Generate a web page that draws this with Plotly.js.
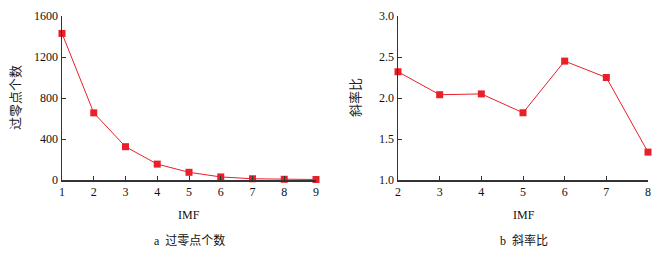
<!DOCTYPE html>
<html>
<head>
<meta charset="utf-8">
<script src="https://cdn.plot.ly/plotly-3.0.1.min.js"></script>
<style>html,body{margin:0;padding:0;background:#fff;}#chart{width:662px;height:256px;}</style>
</head>
<body>
<div id="chart"></div>
<script>
const imfA = [1, 2, 3, 4, 5, 6, 7, 8, 9];
const zeroCrossings = [1430, 655, 325, 155, 75, 30, 12, 7, 5];
const imfB = [2, 3, 4, 5, 6, 7, 8];
const slopeRatio = [2.32, 2.04, 2.05, 1.82, 2.45, 2.25, 1.34];
const yTicksA = [0, 400, 800, 1200, 1600];
const yTicksB = [1.0, 1.5, 2.0, 2.5, 3.0];

const red = '#e8202a';
const serif = 'Liberation Serif, Times New Roman, serif';
const cjk = 'Liberation Serif, Noto Sans CJK SC, serif';
const axisCol = '#333333';

const traces = [
  {x: imfA, y: zeroCrossings, xaxis: 'x', yaxis: 'y', type: 'scatter', mode: 'lines+markers',
   line: {color: red, width: 1}, marker: {symbol: 'square', size: 7, color: red}, cliponaxis: false},
  {x: imfB, y: slopeRatio, xaxis: 'x2', yaxis: 'y2', type: 'scatter', mode: 'lines+markers',
   line: {color: red, width: 1}, marker: {symbol: 'square', size: 7, color: red}, cliponaxis: false}
];

const axBase = {showline: true, linecolor: axisCol, linewidth: 1.5, ticks: 'inside', ticklen: 4,
  tickcolor: axisCol, tickwidth: 1, showgrid: false, zeroline: false,
  tickfont: {family: serif, size: 12, color: '#111'}, fixedrange: true};

const layout = {
  width: 662, height: 256, margin: {l: 0, r: 0, t: 0, b: 0},
  paper_bgcolor: '#fff', plot_bgcolor: '#fff', showlegend: false,
  xaxis: Object.assign({}, axBase, {domain: [62/662, 316/662], range: [1, 9], tickvals: imfA, anchor: 'y'}),
  yaxis: Object.assign({}, axBase, {domain: [1-180/256, 1-16/256], range: [0, 1600], tickvals: yTicksA, anchor: 'x'}),
  xaxis2: Object.assign({}, axBase, {domain: [398/662, 648/662], range: [2, 8], tickvals: imfB, anchor: 'y2'}),
  yaxis2: Object.assign({}, axBase, {domain: [1-180/256, 1-16/256], range: [1, 3], tickvals: yTicksB, tickformat: '.1f', anchor: 'x2'}),
  annotations: [
    {text: '过零点个数', x: 15, y: 98, xref: 'paper', yref: 'paper', textangle: -90, showarrow: false,
     font: {family: cjk, size: 13, color: '#222'}},
    {text: '斜率比', x: 355, y: 98, textangle: -90, showarrow: false, font: {family: cjk, size: 13, color: '#222'}},
    {text: 'IMF', x: 189, y: 215, showarrow: false, font: {family: serif, size: 12, color: '#111'}},
    {text: 'IMF', x: 524, y: 215, showarrow: false, font: {family: serif, size: 12, color: '#111'}},
    {text: 'a  过零点个数', x: 189, y: 240, showarrow: false, font: {family: cjk, size: 12, color: '#111'}},
    {text: 'b  斜率比', x: 524, y: 240, showarrow: false, font: {family: cjk, size: 12, color: '#111'}}
  ]
};
layout.annotations.forEach(a => {
  a.xref = 'paper'; a.yref = 'paper';
  a.x = a.x / 662; a.y = 1 - a.y / 256;
  a.xanchor = 'center'; a.yanchor = 'middle';
});

Plotly.newPlot('chart', traces, layout, {staticPlot: true, displayModeBar: false});
</script>
</body>
</html>
